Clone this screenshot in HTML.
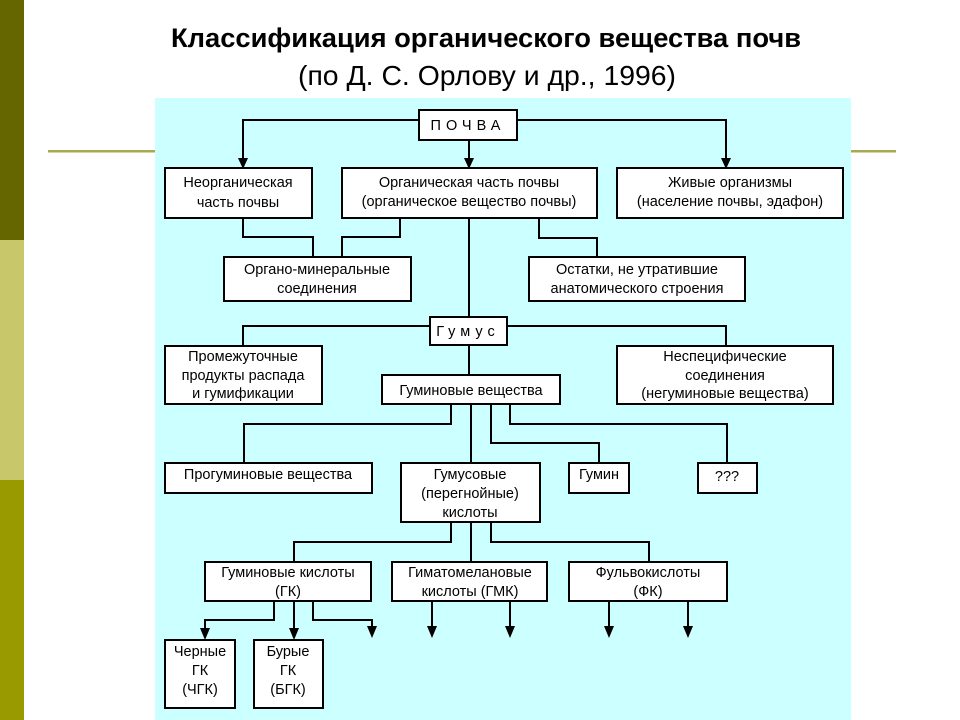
<!DOCTYPE html>
<html><head><meta charset="utf-8"><style>
html,body{margin:0;padding:0;background:#fff;}
svg{display:block;}
text{font-family:"Liberation Sans",sans-serif;fill:#000;}
</style></head><body>
<svg width="960" height="720" viewBox="0 0 960 720" xmlns="http://www.w3.org/2000/svg">
<rect x="0" y="0" width="24" height="240" fill="#666600"/>
<rect x="0" y="240" width="24" height="240" fill="#c8c86a"/>
<rect x="0" y="480" width="24" height="240" fill="#999900"/>
<rect x="48" y="150" width="848" height="2.5" fill="#a8a850"/>
<rect x="155" y="98" width="696" height="622" fill="#ccffff"/>
<text x="486" y="47" font-size="27" font-weight="bold" text-anchor="middle" textLength="630" lengthAdjust="spacingAndGlyphs">Классификация органического вещества почв</text>
<text x="487" y="85" font-size="28" text-anchor="middle" textLength="378" lengthAdjust="spacingAndGlyphs">(по Д. С. Орлову и др., 1996)</text>
<g stroke="#000" stroke-width="2" fill="none">
<polyline points="419,120 243,120 243,160"/>
<polyline points="517,120 726,120 726,160"/>
<line x1="469" y1="140" x2="469" y2="160"/>
<polyline points="243,218 243,237 313,237 313,257"/>
<polyline points="400,218 400,237 342,237 342,257"/>
<polyline points="539,218 539,238 597,238 597,257"/>
<line x1="469" y1="218" x2="469" y2="317"/>
<polyline points="430,326 243,326 243,346"/>
<polyline points="507,326 726,326 726,346"/>
<line x1="469" y1="345" x2="469" y2="375"/>
<polyline points="451,404 451,424 244,424 244,463"/>
<line x1="471" y1="404" x2="471" y2="463"/>
<polyline points="491,404 491,443 599,443 599,463"/>
<polyline points="510,404 510,424 727,424 727,463"/>
<polyline points="451,522 451,542 294,542 294,562"/>
<line x1="471" y1="522" x2="471" y2="562"/>
<polyline points="491,522 491,542 649,542 649,562"/>
<polyline points="274,601 274,620 205,620 205,630"/>
<line x1="294" y1="601" x2="294" y2="630"/>
<polyline points="313,601 313,620 372,620 372,628"/>
<line x1="432" y1="601" x2="432" y2="628"/>
<line x1="510" y1="601" x2="510" y2="628"/>
<line x1="609" y1="601" x2="609" y2="628"/>
<line x1="688" y1="601" x2="688" y2="628"/>
</g>
<g fill="#000">
<path d="M238,158 L248,158 L243,169 Z"/>
<path d="M464,158 L474,158 L469,169 Z"/>
<path d="M721,158 L731,158 L726,169 Z"/>
<path d="M200,628 L210,628 L205,640 Z"/>
<path d="M289,628 L299,628 L294,640 Z"/>
<path d="M367,626 L377,626 L372,638 Z"/>
<path d="M427,626 L437,626 L432,638 Z"/>
<path d="M505,626 L515,626 L510,638 Z"/>
<path d="M604,626 L614,626 L609,638 Z"/>
<path d="M683,626 L693,626 L688,638 Z"/>
</g>
<g fill="#fff" stroke="#000" stroke-width="2">
<rect x="419" y="110" width="98" height="30"/>
<rect x="165" y="168" width="147" height="50"/>
<rect x="342" y="168" width="255" height="50"/>
<rect x="617" y="168" width="226" height="50"/>
<rect x="224" y="257" width="187" height="44"/>
<rect x="529" y="257" width="216" height="44"/>
<rect x="430" y="317" width="77" height="28"/>
<rect x="165" y="346" width="157" height="58"/>
<rect x="617" y="346" width="216" height="58"/>
<rect x="382" y="375" width="178" height="29"/>
<rect x="165" y="463" width="207" height="30"/>
<rect x="401" y="463" width="139" height="59"/>
<rect x="569" y="463" width="60" height="30"/>
<rect x="698" y="463" width="59" height="30"/>
<rect x="205" y="562" width="166" height="39"/>
<rect x="392" y="562" width="155" height="39"/>
<rect x="569" y="562" width="158" height="39"/>
<rect x="165" y="640" width="70" height="68"/>
<rect x="254" y="640" width="69" height="68"/>
</g>
<g font-size="14.5" text-anchor="middle">
<text x="468" y="130" letter-spacing="5">ПОЧВА</text>
<text x="238" y="187">Неорганическая</text>
<text x="238" y="207">часть почвы</text>
<text x="469" y="187">Органическая часть почвы</text>
<text x="469" y="206">(органическое вещество почвы)</text>
<text x="730" y="187">Живые организмы</text>
<text x="730" y="206">(население почвы, эдафон)</text>
<text x="317" y="274">Органо-минеральные</text>
<text x="317" y="293">соединения</text>
<text x="637" y="274">Остатки, не утратившие</text>
<text x="637" y="293">анатомического строения</text>
<text x="468" y="336" letter-spacing="5">Гумус</text>
<text x="243" y="361">Промежуточные</text>
<text x="243" y="380">продукты распада</text>
<text x="243" y="398">и гумификации</text>
<text x="725" y="361">Неспецифические</text>
<text x="725" y="380">соединения</text>
<text x="725" y="398">(негуминовые вещества)</text>
<text x="471" y="395">Гуминовые вещества</text>
<text x="268" y="479">Прогуминовые вещества</text>
<text x="470" y="479">Гумусовые</text>
<text x="470" y="498">(перегнойные)</text>
<text x="470" y="517">кислоты</text>
<text x="599" y="479">Гумин</text>
<text x="727" y="481">???</text>
<text x="288" y="577">Гуминовые кислоты</text>
<text x="288" y="596">(ГК)</text>
<text x="470" y="577">Гиматомелановые</text>
<text x="470" y="596">кислоты (ГМК)</text>
<text x="648" y="577">Фульвокислоты</text>
<text x="648" y="596">(ФК)</text>
<text x="200" y="656">Черные</text>
<text x="200" y="675">ГК</text>
<text x="200" y="694">(ЧГК)</text>
<text x="288" y="656">Бурые</text>
<text x="288" y="675">ГК</text>
<text x="288" y="694">(БГК)</text>
</g>
</svg>
</body></html>
